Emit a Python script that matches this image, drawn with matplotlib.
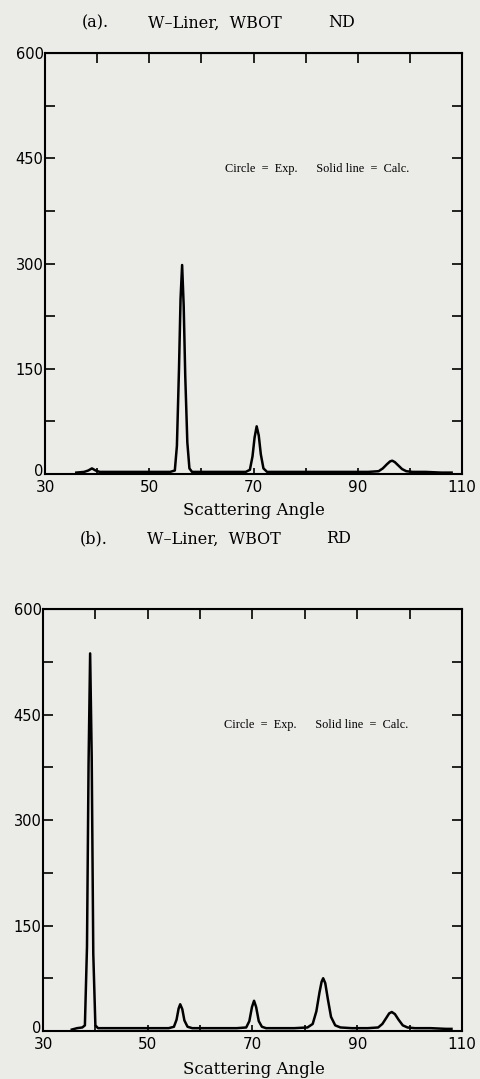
import matplotlib
matplotlib.use('Agg')
import matplotlib.pyplot as plt
import matplotlib.transforms as mtransforms

# panel (a): W-Liner, WBOT, ND
angle_nd = [36.0, 37.5, 38.3, 39.0, 39.7, 40.5, 42, 45, 48, 51, 54, 54.9, 55.3, 55.7, 56.0, 56.3,
            56.6, 56.9, 57.3, 57.7, 58.2, 60, 63, 66, 68.5, 69.3, 69.8, 70.2, 70.6, 71.0, 71.4,
            71.9, 72.6, 73.5, 76, 80, 84, 88, 92, 94.0, 94.8, 95.6, 96.2, 96.6, 97.1, 97.8, 98.5,
            99.3, 100.5, 103, 106, 108]
inten_nd = [2, 3, 5, 8, 5, 3, 3, 3, 3, 3, 3, 5, 40, 150, 250, 298,
            240, 140, 45, 8, 3, 3, 3, 3, 3, 6, 25, 52, 68, 55, 28,
            8, 3, 3, 3, 3, 3, 3, 3, 4, 8, 14, 18, 19, 17, 12, 7,
            4, 3, 3, 2, 2]

# panel (b): W-Liner, WBOT, RD
angle_rd = [35.5, 36.5, 37.5, 38.0, 38.4, 38.7, 39.0, 39.3, 39.6, 40.0, 40.5, 42, 45, 48, 51, 54,
            55.0, 55.5, 55.9, 56.2, 56.6, 57.0, 57.6, 58.5, 61, 64, 67, 68.8, 69.4, 69.9, 70.3,
            70.7, 71.2, 71.8, 72.6, 75, 78, 80.5, 81.5, 82.2, 82.8, 83.2, 83.5, 83.9, 84.4, 85.0,
            85.8, 86.8, 89, 92, 94.0, 94.8, 95.5, 96.1, 96.6, 97.2, 97.9, 98.7, 99.6, 101, 104,
            107, 108]
inten_rd = [2, 4, 5, 8, 120, 380, 537, 390, 110, 8, 4, 4, 4, 4, 4, 4,
            6, 16, 32, 38, 31, 15, 6, 4, 4, 4, 4, 5, 14, 34, 43,
            34, 14, 6, 4, 4, 4, 5, 10, 28, 55, 70, 75, 68, 45, 20,
            8, 5, 4, 4, 5, 10, 18, 25, 27, 24, 16, 8, 5, 4, 4,
            3, 3]

x_ticks = [30, 40, 50, 60, 70, 80, 90, 100, 110]
x_labels = ['30', '', '50', '', '70', '', '90', '', '110']
y_ticks = [0, 75, 150, 225, 300, 375, 450, 525, 600]
y_labels = ['0', '', '150', '', '300', '', '450', '', '600']

panels = [
    (angle_nd, inten_nd, ['(a).', 'W\u2013Liner,  WBOT', 'ND']),
    (angle_rd, inten_rd, ['(b).', 'W\u2013Liner,  WBOT', 'RD']),
]

bg = '#ebebe8'
serif = ['DejaVu Serif']
sans = ['DejaVu Sans']

fig = plt.figure(figsize=(4.81, 10.79), dpi=100, facecolor=bg)

boxes = [[0.0936, 0.5607, 0.867, 0.390], [0.0894, 0.0445, 0.871, 0.391]]
title_y = [0.9787, 0.5005]
title_x = [[0.170, 0.308, 0.682], [0.166, 0.306, 0.678]]
xlabel_y = [0.523, 0.005]

for i, (xs, ys, title) in enumerate(panels):
    ax = fig.add_axes(boxes[i])
    ax.set_facecolor(bg)
    ax.plot(xs, ys, color='black', lw=1.8, solid_joinstyle='round')
    ax.set_xlim(30, 110)
    ax.set_ylim(0, 600)
    for sp in ax.spines.values():
        sp.set_linewidth(1.5)

    ax.set_xticks(x_ticks)
    ax.set_xticklabels(x_labels, family=sans, fontsize=11)
    ax.set_yticks(y_ticks)
    ax.set_yticklabels(y_labels, family=sans, fontsize=10.5)
    ax.tick_params(axis='x', direction='in', length=4.5, width=1.2, pad=4)
    ax.tick_params(axis='y', direction='in', length=7, width=1.2, pad=1,
                   left=True, right=True)
    # lift the "0" label a little so it clears the "30" below it
    zero_lbl = ax.yaxis.get_major_ticks()[0].label1
    zero_lbl.set_transform(zero_lbl.get_transform() +
                           mtransforms.ScaledTranslation(0, 3 / 72, fig.dpi_scale_trans))

    top = ax.secondary_xaxis('top')
    top.set_xticks(x_ticks)
    top.set_xticklabels([])
    top.tick_params(direction='in', length=7, width=1.2)

    ax.text(64.6, 435, 'Circle  =  Exp.      Solid line  =  Calc.',
            family=['Liberation Serif'], fontsize=8.8, va='center', ha='left')

    for tx, s in zip(title_x[i], title):
        fig.text(tx, title_y[i], s, family=serif, fontsize=11.5, va='center', ha='left')
    fig.text(0.527, xlabel_y[i], 'Scattering Angle', family=serif, fontsize=12,
             va='baseline', ha='center')

plt.savefig('out.png', dpi=100, facecolor=bg)
